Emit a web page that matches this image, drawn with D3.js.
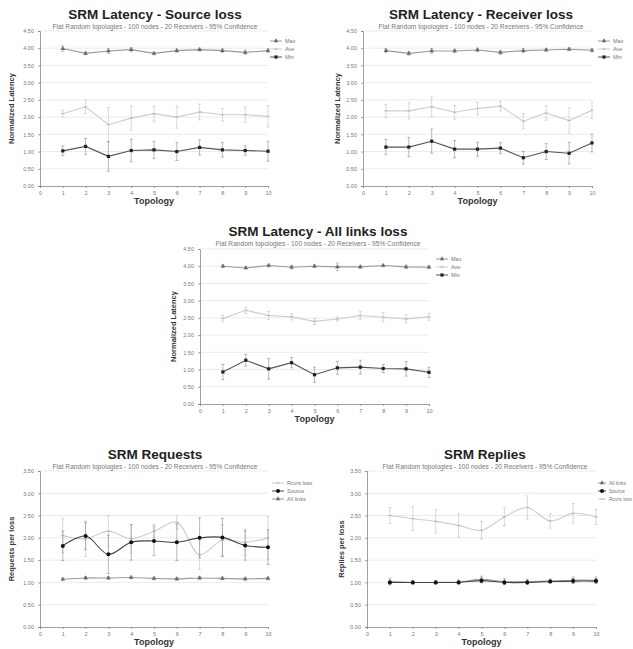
<!DOCTYPE html>
<html>
<head>
<meta charset="utf-8">
<script src="https://cdn.jsdelivr.net/npm/d3@7"></script>
<style>
  body { margin: 0; background: #fff; }
  svg { display: block; font-family: "Liberation Sans", Arial, sans-serif; }
</style>
</head>
<body>
<div id="chart"></div>
<script>
// Data (mean value and 95% half-width per topology)
const topologies = [1, 2, 3, 4, 5, 6, 7, 8, 9, 10];
const subtitle = "Flat Random topologies - 100 nodes - 20 Receivers - 95% Confidence";

// SRM Latency - Source loss
const srcMax = [3.99, 3.85, 3.92, 3.96, 3.85, 3.93, 3.96, 3.93, 3.88, 3.93];
const srcMaxErr = [0.08, 0.04, 0.07, 0.06, 0.04, 0.05, 0.04, 0.05, 0.06, 0.06];
const srcAve = [2.10, 2.30, 1.78, 1.97, 2.10, 2.00, 2.15, 2.07, 2.07, 2.02];
const srcAveErr = [0.10, 0.20, 0.50, 0.35, 0.22, 0.32, 0.23, 0.18, 0.22, 0.31];
const srcMin = [1.02, 1.15, 0.86, 1.03, 1.05, 1.00, 1.12, 1.05, 1.03, 1.01];
const srcMinErr = [0.14, 0.23, 0.43, 0.33, 0.25, 0.26, 0.22, 0.21, 0.14, 0.29];

// SRM Latency - Receiver loss
const rcvMax = [3.93, 3.85, 3.92, 3.92, 3.95, 3.88, 3.93, 3.95, 3.97, 3.94];
const rcvMaxErr = [0.06, 0.05, 0.07, 0.05, 0.05, 0.06, 0.06, 0.04, 0.04, 0.05];
const rcvAve = [2.18, 2.18, 2.30, 2.14, 2.25, 2.32, 1.88, 2.12, 1.90, 2.20];
const rcvAveErr = [0.19, 0.24, 0.28, 0.20, 0.18, 0.14, 0.22, 0.21, 0.37, 0.24];
const rcvMin = [1.13, 1.13, 1.30, 1.07, 1.07, 1.10, 0.82, 1.00, 0.95, 1.25];
const rcvMinErr = [0.22, 0.28, 0.35, 0.25, 0.20, 0.16, 0.18, 0.23, 0.31, 0.26];

// SRM Latency - All links loss
const allMax = [4.00, 3.95, 4.02, 3.97, 4.00, 3.98, 3.98, 4.02, 3.98, 3.97];
const allMaxErr = [0.04, 0.03, 0.04, 0.05, 0.04, 0.11, 0.04, 0.04, 0.05, 0.04];
const allAve = [2.48, 2.72, 2.57, 2.53, 2.40, 2.47, 2.57, 2.52, 2.47, 2.53];
const allAveErr = [0.09, 0.09, 0.12, 0.09, 0.09, 0.06, 0.12, 0.14, 0.12, 0.10];
const allMin = [0.93, 1.27, 1.02, 1.20, 0.85, 1.05, 1.07, 1.03, 1.02, 0.92];
const allMinErr = [0.22, 0.17, 0.30, 0.15, 0.22, 0.19, 0.20, 0.12, 0.21, 0.15];

// SRM Requests
const reqRcvr = [2.05, 1.98, 2.15, 1.98, 2.15, 2.35, 1.62, 1.95, 1.90, 2.00];
const reqRcvrErr = [0.38, 0.40, 0.35, 0.32, 0.15, 0.15, 0.33, 0.35, 0.30, 0.48];
const reqSource = [1.82, 2.04, 1.63, 1.90, 1.93, 1.90, 2.00, 2.01, 1.83, 1.79];
const reqSourceErr = [0.33, 0.30, 0.43, 0.40, 0.33, 0.41, 0.45, 0.43, 0.33, 0.39];
const reqAll = [1.07, 1.10, 1.10, 1.11, 1.09, 1.08, 1.10, 1.09, 1.08, 1.09];
const reqAllErr = [0.03, 0.03, 0.03, 0.03, 0.03, 0.03, 0.03, 0.03, 0.03, 0.03];

// SRM Replies
const repAll = [1.02, 1.00, 1.00, 1.01, 1.07, 1.02, 1.02, 1.03, 1.05, 1.05];
const repAllErr = [0.08, 0.04, 0.04, 0.04, 0.07, 0.07, 0.05, 0.04, 0.07, 0.07];
const repSource = [1.00, 1.00, 1.00, 1.00, 1.04, 1.00, 1.00, 1.02, 1.03, 1.03];
const repSourceErr = [0.04, 0.03, 0.03, 0.03, 0.05, 0.04, 0.04, 0.03, 0.05, 0.05];
const repRcvr = [2.50, 2.43, 2.37, 2.28, 2.17, 2.47, 2.68, 2.38, 2.55, 2.47];
const repRcvrErr = [0.18, 0.27, 0.26, 0.26, 0.20, 0.20, 0.26, 0.16, 0.22, 0.17];

// series styles
const styles = {
    max:  { line: "#9a9a9a", mark: "#6a6a6a", bar: "#9a9a9a", shape: "triangle" },
    ave:  { line: "#cdcdcd", mark: "#b5b5b5", bar: "#c0c0c0", shape: "dash" },
    min:  { line: "#555",    mark: "#222",    bar: "#8a8a8a", shape: "square" },
    src:  { line: "#444",    mark: "#111",    bar: "#8a8a8a", shape: "circle" },
    rcvr: { line: "#cdcdcd", mark: "#b5b5b5", bar: "#bdbdbd", shape: "dash" },
    all:  { line: "#9a9a9a", mark: "#6a6a6a", bar: "#9a9a9a", shape: "triangle" }
};

const svg = d3.select("#chart").append("svg")
    .attr("width", 633)
    .attr("height", 649);

function drawMarker(g, shape, cx, cy, color) {
    if (shape === "triangle") {
        g.append("path")
            .attr("d", d3.symbol(d3.symbolTriangle, 9)())
            .attr("transform", `translate(${cx},${cy})`)
            .attr("fill", color);
    } else if (shape === "square") {
        g.append("rect").attr("x", cx - 1.6).attr("y", cy - 1.6)
            .attr("width", 3.2).attr("height", 3.2).attr("fill", color);
    } else if (shape === "circle") {
        g.append("circle").attr("cx", cx).attr("cy", cy).attr("r", 2).attr("fill", color);
    } else {
        g.append("line").attr("x1", cx - 1.6).attr("x2", cx + 1.6)
            .attr("y1", cy).attr("y2", cy).attr("stroke", color).attr("stroke-width", 1);
    }
}

function drawChart(cfg) {
    const g = svg.append("g");

    const x = d3.scaleLinear().domain([0, 10]).range([cfg.x0, cfg.x1]);
    const y = d3.scaleLinear().domain([0, cfg.yMax]).range([cfg.yBottom, cfg.yTop]);
    const yTicks = d3.range(0, cfg.yMax + 0.001, 0.5);

    // gridlines
    g.append("g").selectAll("line")
        .data(yTicks.slice(1))
        .join("line")
        .attr("x1", cfg.x0).attr("x2", cfg.x1)
        .attr("y1", d => y(d)).attr("y2", d => y(d))
        .attr("stroke", "#e6e6e6")
        .attr("stroke-width", 0.8);

    // axes
    const yAxis = g.append("g")
        .attr("transform", `translate(${cfg.x0},0)`)
        .call(d3.axisLeft(y).tickValues(yTicks).tickFormat(d3.format(".2f")).tickSize(2).tickPadding(4));
    const xAxis = g.append("g")
        .attr("transform", `translate(0,${cfg.yBottom})`)
        .call(d3.axisBottom(x).ticks(10).tickSize(2).tickPadding(3));
    [yAxis, xAxis].forEach(a => {
        a.select(".domain").attr("stroke", "#888").attr("stroke-width", 0.8);
        a.selectAll(".tick line").attr("stroke", "#888").attr("stroke-width", 0.8);
        a.selectAll("text").attr("fill", "#777").style("font-size", "5.5px");
    });

    // series
    const curve = cfg.smooth ? d3.curveCatmullRom.alpha(0.5) : d3.curveLinear;
    cfg.series.forEach(s => {
        const st = styles[s.style];
        const pts = topologies.map((t, i) => ({ t: t, v: s.values[i], e: s.err[i] }));

        const eb = g.append("g");
        pts.forEach(p => {
            const xx = x(p.t), lo = y(p.v - p.e), hi = y(p.v + p.e);
            eb.append("line").attr("x1", xx).attr("x2", xx).attr("y1", lo).attr("y2", hi);
            eb.append("line").attr("x1", xx - 1.5).attr("x2", xx + 1.5).attr("y1", lo).attr("y2", lo);
            eb.append("line").attr("x1", xx - 1.5).attr("x2", xx + 1.5).attr("y1", hi).attr("y2", hi);
        });
        eb.selectAll("line").attr("stroke", st.bar).attr("stroke-width", 0.6);

        g.append("path")
            .datum(pts)
            .attr("fill", "none")
            .attr("stroke", st.line)
            .attr("stroke-width", 1.1)
            .attr("d", d3.line().x(d => x(d.t)).y(d => y(d.v)).curve(curve));

        const mk = g.append("g");
        pts.forEach(p => drawMarker(mk, st.shape, x(p.t), y(p.v), st.mark));
    });

    // legend
    const lw = cfg.legendW || 12;
    cfg.series.forEach((s, i) => {
        const st = styles[s.style];
        const ly = cfg.legendY + i * 8;
        g.append("line")
            .attr("x1", cfg.legendX).attr("x2", cfg.legendX + lw)
            .attr("y1", ly).attr("y2", ly)
            .attr("stroke", st.line).attr("stroke-width", 1);
        drawMarker(g, st.shape, cfg.legendX + lw / 2, ly, st.mark);
        g.append("text")
            .attr("x", cfg.legendX + lw + 3).attr("y", ly + 2)
            .attr("fill", "#777")
            .style("font-size", cfg.legendFont || "5.5px")
            .text(s.name);
    });

    // titles
    const cx = (cfg.x0 + cfg.x1) / 2;
    g.append("text")
        .attr("x", cfg.titleX).attr("y", cfg.titleY)
        .attr("text-anchor", "middle")
        .style("font-size", "13.5px").style("font-weight", "bold")
        .attr("fill", "#222")
        .text(cfg.title);
    g.append("text")
        .attr("x", cfg.titleX).attr("y", cfg.titleY + 10)
        .attr("text-anchor", "middle")
        .style("font-size", "6.6px")
        .attr("fill", "#777")
        .text(subtitle);
    g.append("text")
        .attr("x", cx).attr("y", cfg.yBottom + 18)
        .attr("text-anchor", "middle")
        .style("font-size", "9px").style("font-weight", "bold")
        .attr("fill", "#333")
        .text("Topology");
    g.append("text")
        .attr("transform", `translate(${cfg.yLabelX},${(cfg.yTop + cfg.yBottom) / 2}) rotate(-90)`)
        .attr("text-anchor", "middle")
        .style("font-size", "7.5px").style("font-weight", "bold")
        .attr("fill", "#333")
        .text(cfg.yLabel);
}

drawChart({
    title: "SRM Latency - Source loss", titleX: 155, titleY: 19,
    x0: 40, x1: 268, yTop: 31, yBottom: 186, yMax: 4.5,
    yLabel: "Normalized Latency", yLabelX: 14,
    legendX: 270, legendY: 41, smooth: false,
    series: [
        { name: "Max", style: "max", values: srcMax, err: srcMaxErr },
        { name: "Ave", style: "ave", values: srcAve, err: srcAveErr },
        { name: "Min", style: "min", values: srcMin, err: srcMinErr }
    ]
});

drawChart({
    title: "SRM Latency - Receiver loss", titleX: 481, titleY: 19,
    x0: 363, x1: 592, yTop: 31, yBottom: 186, yMax: 4.5,
    yLabel: "Normalized Latency", yLabelX: 340,
    legendX: 598, legendY: 41, smooth: false,
    series: [
        { name: "Max", style: "max", values: rcvMax, err: rcvMaxErr },
        { name: "Ave", style: "ave", values: rcvAve, err: rcvAveErr },
        { name: "Min", style: "min", values: rcvMin, err: rcvMinErr }
    ]
});

drawChart({
    title: "SRM Latency - All links loss", titleX: 318, titleY: 236,
    x0: 200, x1: 429, yTop: 249, yBottom: 404, yMax: 4.5,
    yLabel: "Normalized Latency", yLabelX: 176,
    legendX: 436, legendY: 259, smooth: false,
    series: [
        { name: "Max", style: "max", values: allMax, err: allMaxErr },
        { name: "Ave", style: "ave", values: allAve, err: allAveErr },
        { name: "Min", style: "min", values: allMin, err: allMinErr }
    ]
});

drawChart({
    title: "SRM Requests", titleX: 155, titleY: 459,
    x0: 40, x1: 268, yTop: 471, yBottom: 627, yMax: 3.5,
    yLabel: "Requests per loss", yLabelX: 14,
    legendX: 272, legendY: 483, smooth: true,
    series: [
        { name: "Rcvrs loss", style: "rcvr", values: reqRcvr, err: reqRcvrErr },
        { name: "Source", style: "src", values: reqSource, err: reqSourceErr },
        { name: "All links", style: "all", values: reqAll, err: reqAllErr }
    ]
});

drawChart({
    title: "SRM Replies", titleX: 485, titleY: 459,
    x0: 367, x1: 596, yTop: 471, yBottom: 627, yMax: 3.5,
    yLabel: "Replies per loss", yLabelX: 344,
    legendX: 598, legendY: 483, legendW: 8, legendFont: "5px", smooth: true,
    series: [
        { name: "All links", style: "all", values: repAll, err: repAllErr },
        { name: "Source", style: "src", values: repSource, err: repSourceErr },
        { name: "Rcvrs loss", style: "rcvr", values: repRcvr, err: repRcvrErr }
    ]
});
</script>
</body>
</html>
